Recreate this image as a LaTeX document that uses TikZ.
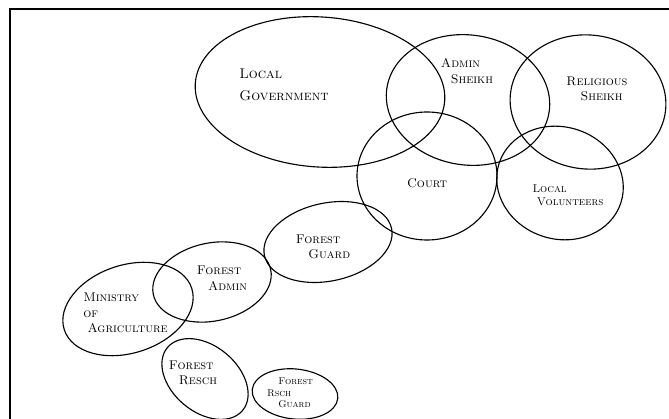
\documentclass[tikz,border=0pt]{standalone}
\usepackage{tikz}
\usetikzlibrary{positioning}

\tikzset{
  blob/.style={draw, line width=0.8pt},
  lbl/.style={font=\scshape\small, align=left, inner sep=0pt},
  tinylbl/.style={font=\scshape\scriptsize, align=left, inner sep=0pt},
}

\begin{document}
\begin{tikzpicture}[x=0.025cm, y=-0.025cm]
    \useasboundingbox (0,0) rectangle (669,419);
    % frame (top and left edge only)
    \draw[line width=2pt] (10,419) -- (10,9) -- (669,9);

    % upper cluster
    \draw[blob, rotate around={-4:(320,92)}] (320,92) ellipse [x radius=125, y radius=75];
    \draw[blob, rotate around={-8:(468,100)}] (468,100) ellipse [x radius=82, y radius=65];
    \draw[blob, rotate around={-6:(588,102)}] (588,102) ellipse [x radius=78, y radius=67];
    \draw[blob] (427,176) ellipse [x radius=70, y radius=64];
    \draw[blob, rotate around={-18:(560,183)}] (560,183) ellipse [x radius=64, y radius=56];

    % chain down to the left
    \draw[blob, rotate around={12:(328,242)}] (328,242) ellipse [x radius=65, y radius=39];
    \draw[blob, rotate around={12:(212,282)}] (212,282) ellipse [x radius=60, y radius=39];
    \draw[blob, rotate around={18:(128,309)}] (128,309) ellipse [x radius=67, y radius=44];
    \draw[blob, rotate around={-40:(205,379)}] (205,379) ellipse [x radius=49, y radius=33];
    \draw[blob, rotate around={-6:(295,394)}] (295,394) ellipse [x radius=43, y radius=25];

    % labels
    \node[lbl, font=\scshape, anchor=west] (lgov) at (239,85) {Local\\[4pt]Government};
    \node[lbl] (asheikh) at (467,71) {Admin\\\hspace*{7pt}Sheikh};
    \node[lbl] (rsheikh) at (597,89) {Religious\\\hspace*{10pt}Sheikh};
    \node[lbl] (court) at (427,183) {Court};
    \node[lbl, font=\scshape\footnotesize] (lvol) at (568,195) {Local\\\hspace*{3pt}Volunteers};
    \node[lbl] (fguard) at (323,247) {Forest\\\hspace*{9pt}Guard};
    \node[lbl] (fadmin) at (222,278) {Forest\\\hspace*{8pt}Admin};
    \node[lbl, anchor=west] (moa) at (83,313) {Ministry\\of\\\hspace*{3pt}Agriculture};
    \node[lbl] (fresch) at (193,373) {Forest\\\hspace*{7pt}Resch};
    \node[tinylbl] (frguard) at (290,393) {\hspace*{8pt}Forest\\Rsch\\\hspace*{8pt}Guard};
\end{tikzpicture}
\end{document}
